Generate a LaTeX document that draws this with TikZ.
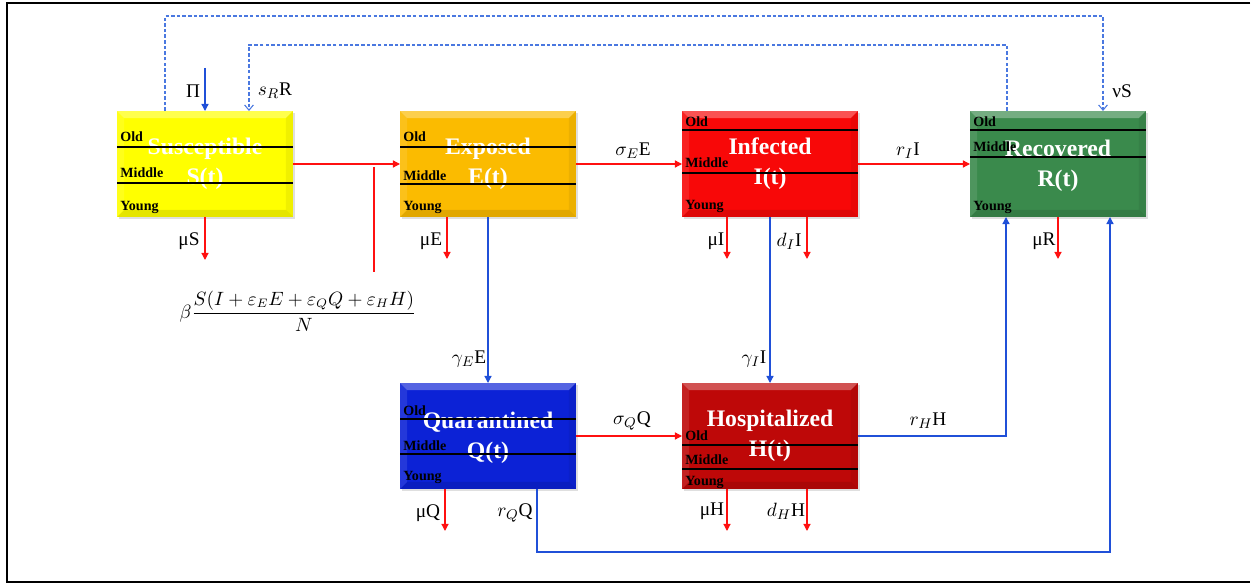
\documentclass[tikz,border=0pt]{standalone}
\usepackage{fontspec}
\setmainfont{Liberation Serif}
\usetikzlibrary{arrows.meta,calc,shadows}
\definecolor{cmpYellow}{HTML}{FFFF00}
\definecolor{cmpAmber}{HTML}{FBBB00}
\definecolor{cmpRed}{HTML}{F80808}
\definecolor{cmpGreen}{HTML}{3A8A4C}
\definecolor{cmpBlue}{HTML}{0C22D6}
\definecolor{cmpDark}{HTML}{BE0808}
\definecolor{flowRed}{HTML}{FF1010}
\definecolor{flowBlue}{HTML}{2050D8}
\definecolor{flowDash}{HTML}{4A78E0}
\tikzset{
  cmp box/.style={rectangle, minimum width=3.52cm, minimum height=2.12cm, inner sep=0pt, outer sep=0pt,
    drop shadow={opacity=.25, shadow xshift=.9pt, shadow yshift=-.9pt}},
  cmp title/.style={font=\fontsize{13.5}{17}\selectfont\bfseries, text=white, align=center, inner sep=0pt},
  cmp age/.style={font=\fontsize{8}{9}\selectfont\bfseries, anchor=west, inner sep=0pt},
  cmp rule/.style={draw=black, line width=.6pt},
  red flow/.style={draw=flowRed, line width=.7pt, -{Triangle[length=4pt,width=4pt]}},
  blue flow/.style={draw=flowBlue, line width=.7pt, -{Triangle[length=4pt,width=4pt]}},
  dash flow/.style={draw=flowDash, dash pattern=on 2pt off 1.2pt, line width=.6pt, -{Straight Barb[length=3pt,width=5pt]}},
  rate/.style={font=\fontsize{11}{13}\selectfont, inner sep=0pt},
}
\newcommand\cmpbevel[1]{%
  \fill[white,opacity=.3] (#1.north west) -- (#1.north east) -- ([shift={(-7,7)}]#1.north east) -- ([shift={(7,7)}]#1.north west) -- cycle;
  \fill[white,opacity=.1] (#1.north west) -- ([shift={(7,7)}]#1.north west) -- ([shift={(7,-7)}]#1.south west) -- (#1.south west) -- cycle;
  \fill[black,opacity=.06] (#1.north east) -- ([shift={(-7,7)}]#1.north east) -- ([shift={(-7,-7)}]#1.south east) -- (#1.south east) -- cycle;
  \fill[black,opacity=.1] (#1.south west) -- ([shift={(7,-7)}]#1.south west) -- ([shift={(-7,-7)}]#1.south east) -- (#1.south east) -- cycle;}

\begin{document}
\begin{tikzpicture}[x=0.02cm,y=-0.02cm]
  \useasboundingbox (0,0) rectangle (1252,584);
  \draw[line width=1.2pt] (1250,3) -- (7,3) -- (7,582) -- (1250,582);
  % compartments
  \node[cmp box, fill=cmpYellow] (S) at (205,164) {};
  \node[cmp box, fill=cmpAmber] (E) at (488,164) {};
  \node[cmp box, fill=cmpRed] (I) at (770,164) {};
  \node[cmp box, fill=cmpGreen] (R) at (1058,164) {};
  \node[cmp box, fill=cmpBlue] (Q) at (488,436) {};
  \node[cmp box, fill=cmpDark] (H) at (770,436) {};
  \foreach \b in {S,E,I,R,Q,H}{\cmpbevel{\b}}
  \node[cmp title] (S-t) at (S) {Susceptible\\S(t)};
  \node[cmp title] (E-t) at (E) {Exposed\\E(t)};
  \node[cmp title] (I-t) at (I) {Infected\\I(t)};
  \node[cmp title] (R-t) at ([shift={(0,2)}]R) {Recovered\\R(t)};
  \node[cmp title] (Q-t) at ([shift={(0,2)}]Q) {Quarantined\\Q(t)};
  \node[cmp title] (H-t) at (H) {Hospitalized\\H(t)};
  % age groups
  \foreach \b/\ra/\rb/\lo/\lm/\ly in {S/36/72/26/62/96, E/36/73/26/65/96, I/19/62/11/52/95,
      R/19/46/11/36/96, Q/36/71/28/63/94, H/62/86/53/77/99}{
    \draw[cmp rule] ([shift={(0,\ra)}]\b.north west) -- ([shift={(0,\ra)}]\b.north east);
    \draw[cmp rule] ([shift={(0,\rb)}]\b.north west) -- ([shift={(0,\rb)}]\b.north east);
    \node[cmp age] (\b-old) at ([shift={(3,\lo)}]\b.north west) {Old};
    \node[cmp age] (\b-mid) at ([shift={(3,\lm)}]\b.north west) {Middle};
    \node[cmp age] (\b-young) at ([shift={(3,\ly)}]\b.north west) {Young};
  }
  % flows
  \coordinate (pi) at (205,68);
  \draw[blue flow] (pi) -- (S.north);
  \node[rate] (pi-l) at (193,91) {Π};
  \draw[dash flow] ([shift={(-51,0)}]R.north) -- ++(0,-66) -| ([shift={(44,0)}]S.north);
  \node[rate] (sR-l) at (275,91) {$s_R$R};
  \draw[dash flow] ([shift={(-40,0)}]S.north) -- ++(0,-95) -| ([shift={(45,0)}]R.north);
  \node[rate] (nu-l) at (1122,91) {νS};
  \draw[red flow] (S.east) -- (E.west);
  \coordinate (foi) at (374,167);
  \draw[flowRed, line width=.7pt] (foi) -- ++(0,105);
  \node[rate, font=\fontsize{10.5}{12}\selectfont] (foi-l) at (298,311)
    {$\beta\displaystyle\frac{S(I+\varepsilon_E E+\varepsilon_Q Q+\varepsilon_H H)}{N}$};
  \draw[red flow] (S.south) -- ++(0,43);
  \node[rate] (muS-l) at (189,241) {μS};
  \draw[red flow] (E.east) -- (I.west);
  \node[rate] (sE-l) at (633,151) {$\sigma_E$E};
  \draw[red flow] ([shift={(-41,0)}]E.south) -- ++(0,42);
  \node[rate] (muE-l) at (431,241) {μE};
  \draw[blue flow] (E.south) -- (Q.north);
  \node[rate] (gE-l) at (469,359) {$\gamma_E$E};
  \draw[red flow] (I.east) -- (R.west);
  \node[rate] (rI-l) at (908,151) {$r_I$I};
  \draw[red flow] ([shift={(-43,0)}]I.south) -- ++(0,42);
  \node[rate] (muI-l) at (716,241) {μI};
  \draw[red flow] ([shift={(37,0)}]I.south) -- ++(0,42);
  \node[rate] (dI-l) at (789,241) {$d_I$I};
  \draw[blue flow] (I.south) -- (H.north);
  \node[rate] (gI-l) at (754,359) {$\gamma_I$I};
  \draw[red flow] (R.south) -- ++(0,42);
  \node[rate] (muR-l) at (1044,241) {μR};
  \draw[red flow] (Q.east) -- (H.west);
  \node[rate] (sQ-l) at (632,421) {$\sigma_Q$Q};
  \draw[blue flow] (H.east) -| ([shift={(-52,0)}]R.south);
  \node[rate] (rH-l) at (928,421) {$r_H$H};
  \draw[red flow] ([shift={(-43,0)}]Q.south) -- ++(0,42);
  \node[rate] (muQ-l) at (428,513) {μQ};
  \draw[blue flow] ([shift={(49,0)}]Q.south) -- ++(0,63) -| ([shift={(52,0)}]R.south);
  \node[rate] (rQ-l) at (515,513) {$r_Q$Q};
  \draw[red flow] ([shift={(-43,0)}]H.south) -- ++(0,42);
  \node[rate] (muH-l) at (712,511) {μH};
  \draw[red flow] ([shift={(37,0)}]H.south) -- ++(0,42);
  \node[rate] (dH-l) at (786,511) {$d_H$H};
\end{tikzpicture}
\end{document}
